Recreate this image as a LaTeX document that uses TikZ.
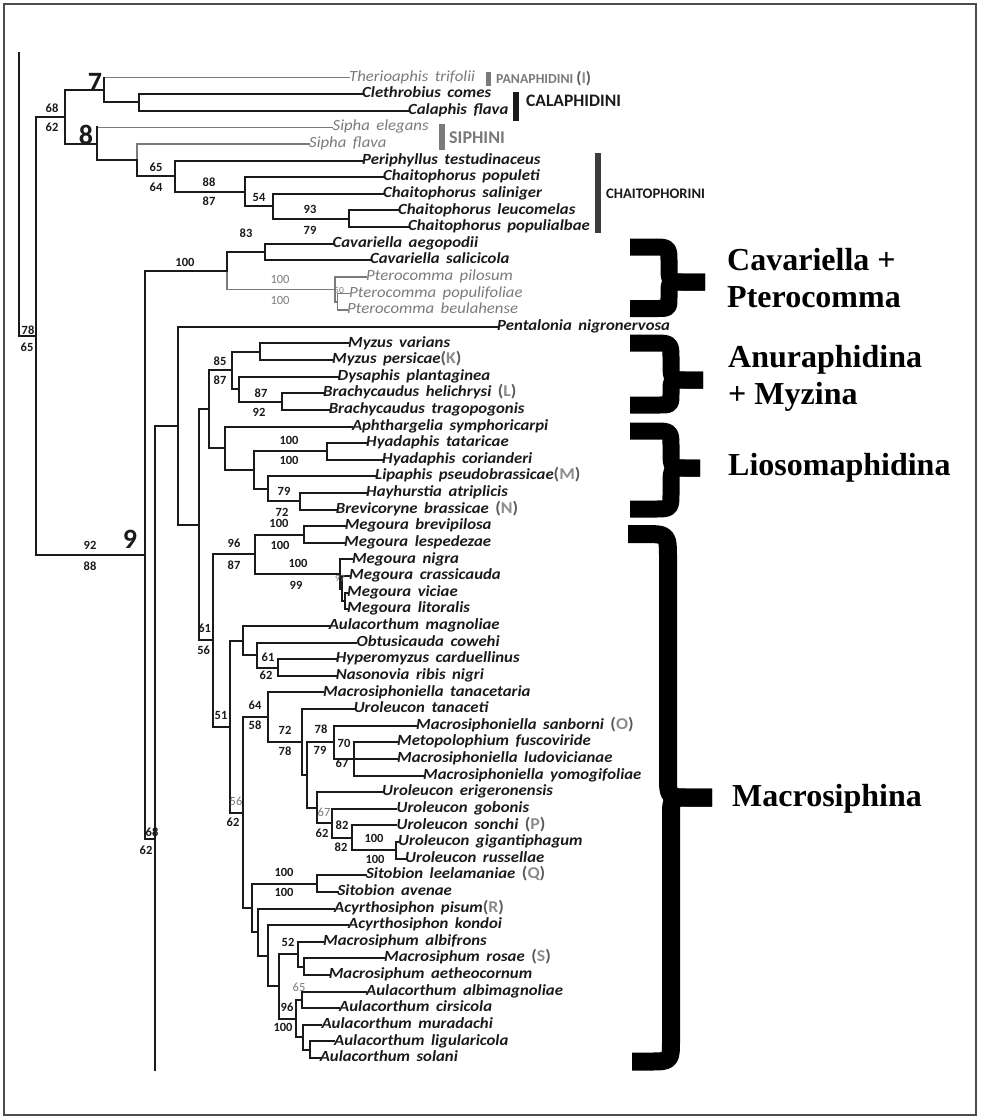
\documentclass[tikz,border=0pt]{standalone}
\usepackage{fontspec}
\setmainfont{Carlito}
\newfontfamily\calfont[FakeStretch=1.08]{Carlito}
\newfontfamily\calplain{Carlito}
\newfontfamily\timesfont{Liberation Serif}
\definecolor{ink}{HTML}{1A1A1A}
\definecolor{pale}{HTML}{7A7A7A}
\definecolor{tagc}{HTML}{8C8C8C}
\definecolor{parc}{HTML}{5A5A5A}
\newcommand\lettag[1]{{\upshape\bfseries\fontsize{16.5}{17}\selectfont\color{parc}(\textcolor{tagc}{#1})}}
\newcommand\widegaps{\spaceskip=0.42em\relax}
\tikzset{
  br/.style={draw=ink, line width=2pt, line cap=rect},
  brg/.style={draw=pale, line width=1.5pt, line cap=rect},
  leaf/.style={anchor=west, inner sep=0pt, text height=8pt, text depth=0.8pt, text=ink,
    font=\calfont\itshape\bfseries\fontsize{15.5}{16}\selectfont\widegaps},
  leafg/.style={leaf, text=pale, font=\calfont\itshape\fontsize{15.5}{16}\selectfont\widegaps},
  bs/.style={inner sep=0pt, text=ink, font=\calplain\bfseries\fontsize{12.5}{13}\selectfont},
  bsg/.style={inner sep=0pt, text=pale, font=\calplain\fontsize{12.5}{13}\selectfont},
  bst/.style={inner sep=0pt, text=pale, font=\calplain\fontsize{9.5}{10}\selectfont},
  big/.style={inner sep=0pt, text=ink, font=\calplain\bfseries\fontsize{28}{30}\selectfont},
  grp/.style={anchor=west, inner sep=0pt, font=\calplain\bfseries\fontsize{#1}{18}\selectfont},
  side/.style={anchor=base west, inner sep=0pt, font=\timesfont\bfseries\fontsize{32}{34}\selectfont},
  curly/.style={draw=black, line width=#1, line cap=butt, line join=round},
}
\begin{document}
\begin{tikzpicture}[x=1pt, y=-1pt]
\useasboundingbox (0,0) rectangle (980,1119);
\draw[gray!60!black, line width=1.3pt] (4,4) rectangle (976,1115);

% ---------- leaves ----------
\node[leafg] (L1) at (349,77.5) {Therioaphis trifolii};
\node[leaf] (L2) at (362,94.12) {Clethrobius comes};
\node[leaf] (L3) at (408,110.74) {Calaphis flava};
\node[leafg] (L4) at (332.5,127.36) {Sipha elegans};
\node[leafg] (L5) at (309,143.98) {Sipha flava};
\node[leaf] (L6) at (362,160.6) {Periphyllus testudinaceus};
\node[leaf] (L7) at (383,177.22) {Chaitophorus populeti};
\node[leaf] (L8) at (383,193.84) {Chaitophorus saliniger};
\node[leaf] (L9) at (398,210.46) {Chaitophorus leucomelas};
\node[leaf] (L10) at (408,227.08) {Chaitophorus populialbae};
\node[leaf] (L11) at (332.5,243.7) {Cavariella aegopodii};
\node[leaf] (L12) at (370,260.32) {Cavariella salicicola};
\node[leafg] (L13) at (366,276.94) {Pterocomma pilosum};
\node[leafg] (L14) at (349,293.56) {Pterocomma populifoliae};
\node[leafg] (L15) at (347,310.18) {Pterocomma beulahense};
\node[leaf] (L16) at (497,326.8) {Pentalonia nigronervosa};
\node[leaf] (L17) at (348,343.42) {Myzus varians};
\node[leaf] (L18) at (332,360.04) {Myzus persicae\lettag{K}};
\node[leaf] (L19) at (337.5,376.66) {Dysaphis plantaginea};
\node[leaf] (L20) at (323,393.28) {Brachycaudus helichrysi \lettag{L}};
\node[leaf] (L21) at (328.6,409.9) {Brachycaudus tragopogonis};
\node[leaf] (L22) at (351.8,426.52) {Aphthargelia symphoricarpi};
\node[leaf] (L23) at (366,443.14) {Hyadaphis tataricae};
\node[leaf] (L24) at (382,459.76) {Hyadaphis corianderi};
\node[leaf] (L25) at (375,476.38) {Lipaphis pseudobrassicae\lettag{M}};
\node[leaf] (L26) at (366,493) {Hayhurstia atriplicis};
\node[leaf] (L27) at (335.7,509.62) {Brevicoryne brassicae \lettag{N}};
\node[leaf] (L28) at (344.6,526.24) {Megoura brevipilosa};
\node[leaf] (L29) at (344,542.86) {Megoura lespedezae};
\node[leaf] (L30) at (351.8,559.48) {Megoura nigra};
\node[leaf] (L31) at (349,576.1) {Megoura crassicauda};
\node[leaf] (L32) at (347,592.72) {Megoura viciae};
\node[leaf] (L33) at (347,609.34) {Megoura litoralis};
\node[leaf] (L34) at (328.6,625.96) {Aulacorthum magnoliae};
\node[leaf] (L35) at (356.4,642.58) {Obtusicauda cowehi};
\node[leaf] (L36) at (335.7,659.2) {Hyperomyzus carduellinus};
\node[leaf] (L37) at (335.7,675.82) {Nasonovia ribis nigri};
\node[leaf] (L38) at (323,692.44) {Macrosiphoniella tanacetaria};
\node[leaf] (L39) at (353.6,709.06) {Uroleucon tanaceti};
\node[leaf] (L40) at (416,725.68) {Macrosiphoniella sanborni \lettag{O}};
\node[leaf] (L41) at (397,742.3) {Metopolophium fuscoviride};
\node[leaf] (L42) at (397,758.92) {Macrosiphoniella ludovicianae};
\node[leaf] (L43) at (423,775.54) {Macrosiphoniella yomogifoliae};
\node[leaf] (L44) at (382,792.16) {Uroleucon erigeronensis};
\node[leaf] (L45) at (396.4,808.78) {Uroleucon gobonis};
\node[leaf] (L46) at (396.4,825.4) {Uroleucon sonchi \lettag{P}};
\node[leaf] (L47) at (398,842.02) {Uroleucon gigantiphagum};
\node[leaf] (L48) at (405,858.64) {Uroleucon russellae};
\node[leaf] (L49) at (366,875.26) {Sitobion leelamaniae \lettag{Q}};
\node[leaf] (L50) at (337.5,891.88) {Sitobion avenae};
\node[leaf] (L51) at (334,908.5) {Acyrthosiphon pisum\lettag{R}};
\node[leaf] (L52) at (348,925.12) {Acyrthosiphon kondoi};
\node[leaf] (L53) at (323,941.74) {Macrosiphum albifrons};
\node[leaf] (L54) at (384,958.36) {Macrosiphum rosae \lettag{S}};
\node[leaf] (L55) at (328.6,974.98) {Macrosiphum aetheocornum};
\node[leaf] (L56) at (366,991.6) {Aulacorthum albimagnoliae};
\node[leaf] (L57) at (339,1008.22) {Aulacorthum cirsicola};
\node[leaf] (L58) at (321.4,1024.84) {Aulacorthum muradachi};
\node[leaf] (L59) at (334,1041.46) {Aulacorthum ligularicola};
\node[leaf] (L60) at (319.6,1058.08) {Aulacorthum solani};

% ---------- internal nodes ----------
\coordinate (rtop) at (19,53);
\coordinate (n1) at (36,336);
\coordinate (nC) at (65,116.85);
\coordinate (n7) at (104,89.97);
\coordinate (nCal) at (139,102.43);
\coordinate (n8) at (97,143.72);
\coordinate (nSf) at (137,160.08);
\coordinate (n65) at (175,176.18);
\coordinate (n88) at (245,191.76);
\coordinate (n54) at (273,206.3);
\coordinate (n93) at (348.5,218.77);
\coordinate (n9) at (145,554.85);
\coordinate (nCP) at (227,270.7);
\coordinate (nCav) at (265,252.01);
\coordinate (nPt) at (335,289.4);
\coordinate (nPt2) at (337.5,301.87);
\coordinate (n155) at (155,839);
\coordinate (nEnd) at (155,1070);
\coordinate (n178) at (177.7,425.85);
\coordinate (n199) at (199,524.89);
\coordinate (n209) at (209,409.38);
\coordinate (n232) at (232,370.43);
\coordinate (nMy) at (259.6,351.73);
\coordinate (n239) at (239,389.13);
\coordinate (nBr) at (282,401.59);
\coordinate (n225) at (225,448.34);
\coordinate (nX) at (253.6,470.15);
\coordinate (nHy) at (326.8,451.45);
\coordinate (nY) at (268,488.85);
\coordinate (nZ) at (300,501.31);
\coordinate (n212) at (212.5,640.4);
\coordinate (nMeg) at (255.4,554.29);
\coordinate (nB) at (303.6,534.55);
\coordinate (nM1) at (339.5,574.02);
\coordinate (nM2) at (342,588.57);
\coordinate (nM3) at (344.5,601.03);
\coordinate (n230) at (230.4,726.5);
\coordinate (nAm) at (243,640.5);
\coordinate (nOb) at (257,655.05);
\coordinate (nHN) at (277.5,667.51);
\coordinate (nQ) at (242.5,812.55);
\coordinate (n268) at (268,717.24);
\coordinate (nR) at (301.8,742.04);
\coordinate (nS) at (307,775.02);
\coordinate (nT) at (334,742.3);
\coordinate (nV) at (353.6,758.92);
\coordinate (nU) at (317,807.74);
\coordinate (nW) at (332,823.32);
\coordinate (nX2) at (352,837.87);
\coordinate (nY2) at (395.5,850.33);
\coordinate (n252) at (251.7,907.85);
\coordinate (nSi) at (316.8,883.57);
\coordinate (n258) at (258.3,932.13);
\coordinate (n268b) at (268.3,955.76);
\coordinate (n279) at (279,986.4);
\coordinate (nM52) at (297.7,954.2);
\coordinate (nMR) at (304,966.67);
\coordinate (nA96) at (296,1018.6);
\coordinate (nA65) at (302,999.91);
\coordinate (nAM) at (302.7,1037.3);
\coordinate (nAS) at (310,1049.77);

% ---------- branches ----------
\foreach \a/\b in {n7/L1, n8/L4, nSf/L5, nCP/nPt, nPt/L13, nPt/nPt2, nPt2/L14, nPt2/L15}
  \draw[brg] (\a) |- (\b);
\draw[br] (n7) -- (n7 |- L1);
\draw[br] (n8) -- (n8 |- L4);
\foreach \a/\b in {rtop/n1, n1/nC, n1/n9, nC/n7, nC/n8, n7/nCal, nCal/L2, nCal/L3,
  n8/nSf, nSf/n65, n65/L6, n65/n88, n88/L7, n88/n54, n54/L8, n54/n93, n93/L9, n93/L10,
  n9/nCP, n9/n155, nCP/nCav, nCav/L11, nCav/L12, n155/n178, n178/L16, n178/n199,
  n199/n209, n199/n212, n209/n232, n209/n225, n232/nMy, n232/n239, nMy/L17, nMy/L18,
  n239/L19, n239/nBr, nBr/L20, nBr/L21, n225/L22, n225/nX, nX/nHy, nX/nY, nHy/L23,
  nHy/L24, nY/L25, nY/nZ, nZ/L26, nZ/L27, n212/nMeg, n212/n230, nMeg/nB, nMeg/nM1,
  nB/L28, nB/L29, nM1/L30, nM1/nM2, nM2/L31, nM2/nM3, nM3/L32, nM3/L33, n230/nAm,
  n230/nQ, nAm/L34, nAm/nOb, nOb/L35, nOb/nHN, nHN/L36, nHN/L37, nQ/n268, nQ/n252,
  n268/L38, n268/nR, nR/L39, nR/nS, nS/nT, nS/nU, nT/L40, nT/nV, nV/L41, nV/L42,
  nV/L43, nU/L44, nU/nW, nW/L45, nW/nX2, nX2/L46, nX2/nY2, nY2/L47, nY2/L48,
  n252/nSi, n252/n258, nSi/L49, nSi/L50, n258/L51, n258/n268b, n268b/L52, n268b/n279,
  n279/nM52, n279/nA96, nM52/L53, nM52/nMR, nMR/L54, nMR/L55, nA96/nA65, nA96/nAM,
  nA65/L56, nA65/L57, nAM/L58, nAM/nAS, nAS/L59, nAS/L60}
  \draw[br] (\a) |- (\b);
\draw[br] (n155) -- (nEnd);

% ---------- support values ----------
\foreach \t/\x/\y [count=\i] in {78/28/330, 65/27/347, 68/52/108, 62/52/127, 92/90/545,
  88/90/566, 65/156/167, 64/156/187, 88/209/182, 87/209/201, 54/259/197, 93/310/209,
  79/310/230, 83/246/233, 100/185/262, 85/220/361, 87/220/380, 87/261/393, 92/259/412,
  100/289/440, 100/289/460, 79/284/491, 72/282/512, 100/279/523, 100/280/545, 96/234/543,
  87/234/565, 100/298/563, 99/296/585, 61/204.6/628, 56/203.6/650, 61/268/657,
  62/266/675, 51/221/715, 64/255/705, 58/255/725, 72/285/730, 78/285/751, 78/321/729,
  79/320/750, 70/344/743, 67/342/763, 62/233/822, 62/322/833, 82/342/825, 82/341/847,
  100/374/838, 100/375/859, 68/152/832, 62/146/850, 100/284/872, 100/284/892,
  52/288/942, 96/287/1007, 100/283/1027}
  \node[bs] (bv\i) at (\x,\y) {\t};
\foreach \t/\x/\y [count=\i] in {100/280/279, 100/280/300, 56/236/801, 67/324/812, 65/299/987}
  \node[bsg] (bg\i) at (\x,\y) {\t};
\node[bst] (bt1) at (339,290) {50};
\node[bst] (bt2) at (340,578) {97};

\node[big] (k7) at (95,82) {7};
\node[big] (k8) at (86,135) {8};
\node[big] (k9) at (130,539) {9};

% ---------- tribe labels ----------
\fill[pale] (486,72) rectangle (491,86);
\node[grp=13.8, text=pale] (gPan) at (496,78.5) {PANAPHIDINI \lettag{I}};
\fill[ink] (513,92) rectangle (519,121);
\node[grp=17.5, text=ink] (gCal) at (526,101) {CALAPHIDINI};
\fill[pale] (439,124) rectangle (445,150);
\node[grp=18, text=pale] (gSip) at (449,137.5) {SIPHINI};
\fill[ink!85] (595,153) rectangle (601,233);
\node[grp=14.6, text=ink] (gCha) at (606,194) {CHAITOPHORINI};

% ---------- braces ----------
\draw[curly=17pt] (630,247) -- (653,247) .. controls (669,247) .. (669,263) -- (669,266)
  .. controls (669,282) .. (685,282) -- (705,282);
\draw[curly=17pt] (705,282) -- (681,282) .. controls (669,282) .. (669,294) -- (669,296.5)
  .. controls (669,308.5) .. (657,308.5) -- (630,308.5);
\draw[curly=17pt] (630,343) -- (654,343) .. controls (671,343) .. (671,360) -- (671,363)
  .. controls (671,380) .. (688,380) -- (703,380);
\draw[curly=17pt] (703,380) -- (683,380) .. controls (671,380) .. (671,392) -- (671,393)
  .. controls (671,405) .. (659,405) -- (630,405);
\draw[curly=17pt] (630,431) -- (654,431) .. controls (671,431) .. (671,448) -- (671,451)
  .. controls (671,468) .. (688,468) -- (700,468);
\draw[curly=17pt] (700,468) -- (688,468) .. controls (671,468) .. (671,485) -- (671,492)
  .. controls (671,509) .. (654,509) -- (630,509);
\draw[curly=18pt] (628,534) -- (643,534) .. controls (668,534) .. (668,559) -- (668,775.5)
  .. controls (668,797.5) .. (690,797.5) -- (712,797.5);
\draw[curly=18pt] (712,797.5) -- (691,797.5) .. controls (671,797.5) .. (671,817.5) -- (671,1039.5)
  .. controls (671,1061.5) .. (649,1061.5) -- (632,1061.5);

\node[side] (sCav) at (727,270) {Cavariella +};
\node[side] (sPte) at (727,307) {Pterocomma};
\node[side] (sAnu) at (728,367) {Anuraphidina};
\node[side] (sMyz) at (728,404) {+ Myzina};
\node[side] (sLio) at (728,475) {Liosomaphidina};
\node[side] (sMac) at (732,806) {Macrosiphina};
\end{tikzpicture}
\end{document}
